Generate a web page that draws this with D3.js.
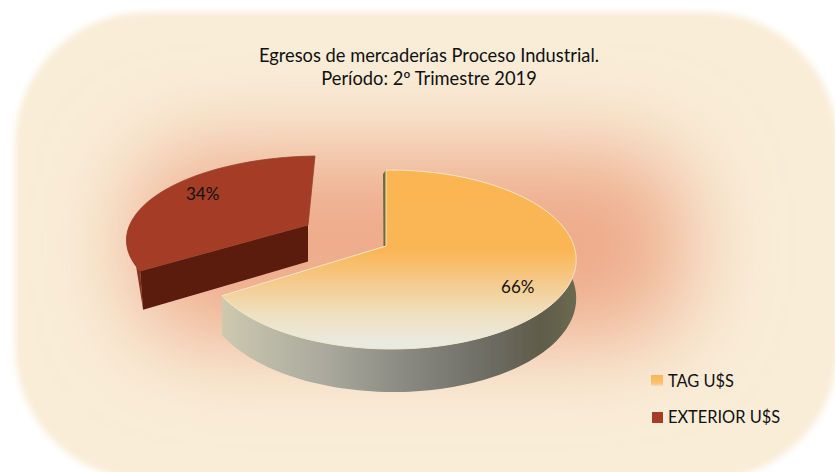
<!DOCTYPE html>
<html><head><meta charset="utf-8">
<script src="https://cdn.jsdelivr.net/npm/d3@7/dist/d3.min.js"></script>
<style>html,body{margin:0;padding:0;background:#fff}svg{display:block}text{font-family:Lato,"Open Sans",sans-serif;fill:#111}</style>
</head><body><div id="c"></div>
<script>
const titleLines = ["Egresos de mercaderías Proceso Industrial.", "Período: 2º Trimestre 2019"];
const categories = ["TAG U$S", "EXTERIOR U$S"];
const values = [66, 34];

const W = 835, H = 472;
const svg = d3.select("#c").append("svg").attr("width", W).attr("height", H);
const defs = svg.append("defs");

function linear(id, x1, y1, x2, y2, stops) {
  const g = defs.append("linearGradient").attr("id", id).attr("gradientUnits", "userSpaceOnUse")
    .attr("x1", x1).attr("y1", y1).attr("x2", x2).attr("y2", y2);
  stops.forEach(s => g.append("stop").attr("offset", s[0]).attr("stop-color", s[1]));
}
linear("topFace", 0, 170, 0, 349, [[0, "#fbb552"], [.45, "#fab655"], [.62, "#f5c98a"], [.8, "#efe0bf"], [1, "#e8ece6"]]);
linear("sideFace", 222, 0, 576, 0, [[0, "#cfc9ae"], [.12, "#bdbba8"], [.3, "#a9a89c"], [.5, "#8c8c84"], [.72, "#707068"], [.9, "#5f5c4a"], [1, "#6a6a50"]]);
linear("legendTag", 0, 375, 0, 387, [[0, "#fbb552"], [.65, "#fbc070"], [1, "#efe6d2"]]);
defs.append("filter").attr("id", "edge").attr("x", "-10%").attr("y", "-10%").attr("width", "120%").attr("height", "120%")
  .append("feGaussianBlur").attr("stdDeviation", 3);
defs.append("filter").attr("id", "glow").attr("x", "-60%").attr("y", "-100%").attr("width", "220%").attr("height", "300%")
  .append("feGaussianBlur").attr("stdDeviation", 46);
defs.append("filter").attr("id", "soft").append("feGaussianBlur").attr("stdDeviation", .45);

// background plate
svg.append("rect").attr("x", 15).attr("y", 12).attr("width", 823).attr("height", 468).attr("rx", 132)
  .attr("fill", "#f9edd8").attr("filter", "url(#edge)");
svg.append("rect").attr("x", 135).attr("y", 150).attr("width", 550).attr("height", 190).attr("rx", 60)
  .attr("fill", "#eeab8a").attr("filter", "url(#glow)");

// pie angles
const pie = d3.pie().sort(null).value(d => d)(values);

// tilted, perspective projection of the pie disc
const apex = [386, 246], rx = 183, ry = 87.4, kv = -0.151, ku = -0.0264, depth = 36.5;
function project(a, r, z, off) {
  const u = Math.sin(a) * r, v = -Math.cos(a) * r;
  const w = 1 + kv * v + ku * u;
  let x = apex[0] + rx * u / w, y = apex[1] + ry * v / w + z * depth / w;
  if (off) { x += off[0] + off[2] * v; y += off[1] + off[3] * v; }
  return [x, y];
}
const line = d3.line();
const step = 0.03;
function rim(a0, a1, z, off) {
  const pts = d3.range(a0, a1, step).concat([a1]);
  return pts.map(a => project(a, 1, z, off));
}

const g = svg.append("g").attr("filter", "url(#soft)");

// exploded slice
const redOff = [-78, -21, -7, -7];
const rs = pie[1];
const r0 = rs.startAngle, r1 = rs.endAngle;
const redFoot = project(r0, 1, 1, redOff);
redFoot[0] += 3;
g.append("path").attr("d", line(rim(r0, r0 + 0.56, 0, redOff).concat([redFoot])) + "Z").attr("fill", "#843222");
g.append("path").attr("d", line([project(r0, 1, 0, redOff), project(0, 0, 0, redOff), project(0, 0, 1, redOff), redFoot]) + "Z").attr("fill", "#5b1a0e");
g.append("path").attr("d", line([project(0, 0, 0, redOff)].concat(rim(r0, r1, 0, redOff))) + "Z").attr("fill", "#a53c25").attr("stroke", "#94412f").attr("stroke-width", .8);

// main slice
const os = pie[0];
const o0 = os.startAngle, o1 = os.endAngle;
g.append("path").attr("d", line([project(0, 0, 0), project(o0, 1, 0), [project(o0, 1, 0)[0] - 3, project(o0, 1, 0)[1] + 4], [project(0, 0, 0)[0] - 2.5, project(0, 0, 0)[1] + 2]]) + "Z").attr("fill", "#6f6a3a");
g.append("path").attr("d", line(rim(1.35, o1, 0).concat(rim(1.35, o1, 1).reverse())) + "Z").attr("fill", "url(#sideFace)");
g.append("path").attr("d", line([project(0, 0, 0)].concat(rim(o0, o1, 0))) + "Z").attr("fill", "url(#topFace)").attr("stroke", "#f3e6c6").attr("stroke-width", 1);

// value labels
const pct = d3.format(".0f");
[[os, null, 4, 7], [rs, redOff, 3, -4]].forEach(([s, off, dx, dy]) => {
  const p = project((s.startAngle + s.endAngle) / 2, .74, 0, off);
  svg.append("text").attr("x", p[0] + dx).attr("y", p[1] + dy + 6).attr("text-anchor", "middle")
    .attr("font-size", 17).text(pct(s.value) + "%");
});

// title
svg.selectAll("text.t").data(titleLines).join("text").attr("class", "t").attr("x", 429)
  .attr("y", (d, i) => 62 + i * 23).attr("text-anchor", "middle").attr("font-size", 18.3).text(d => d);

// legend
const ly = d3.scalePoint().domain(categories).range([387, 423]);
const lfill = ["url(#legendTag)", "#a53c25"];
categories.forEach((c, i) => {
  svg.append("rect").attr("x", 651 + i).attr("y", ly(c) - 12 + i).attr("width", 12 - i).attr("height", 11).attr("fill", lfill[i]);
  svg.append("text").attr("x", 668).attr("y", ly(c)).attr("font-size", 16.4).text(c);
});
</script></body></html>
